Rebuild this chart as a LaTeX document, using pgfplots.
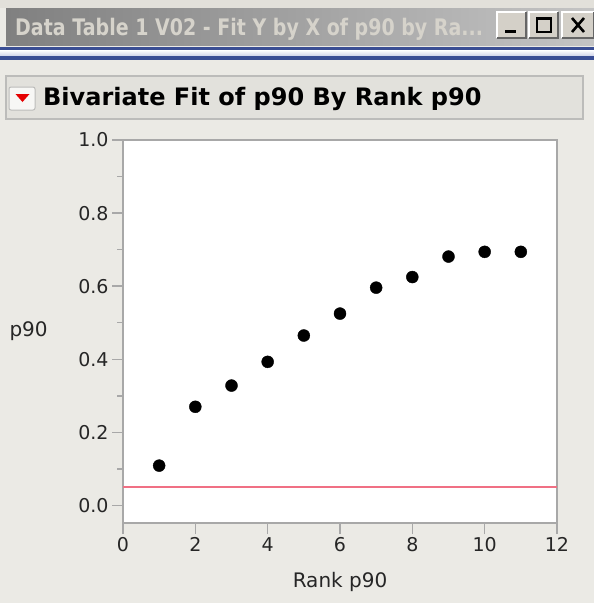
\documentclass[border=0pt]{standalone}
\usepackage{graphicx}
\usepackage{fontspec}
\setmainfont{DejaVu Sans}
\usepackage{pgfplots}
\pgfplotsset{compat=1.18}

\definecolor{winbg}{RGB}{235,234,229}
\definecolor{strip}{RGB}{226,224,218}
\definecolor{tbleft}{RGB}{128,128,128}
\definecolor{tbright}{RGB}{196,196,196}
\definecolor{tbtext}{RGB}{214,211,203}
\definecolor{btnface}{RGB}{212,208,200}
\definecolor{bluedark}{RGB}{58,78,148}
\definecolor{bluelight}{RGB}{206,210,232}
\definecolor{hdrfill}{RGB}{226,225,220}
\definecolor{hdrline}{RGB}{188,188,186}
\definecolor{axgray}{RGB}{168,168,168}
\definecolor{fitred}{RGB}{240,112,132}

\begin{document}
\begin{tikzpicture}
% window chrome, drawn in pixel units from the top left
\begin{scope}[x=1pt,y=-1pt]
\path[use as bounding box] (0,0) rectangle (594,603);
\fill[winbg] (0,0) rectangle (594,603);
\fill[strip] (0,0) rectangle (594,8);
\shade[left color=tbleft, right color=tbright] (6,8) rectangle (594,45);
\node[anchor=base west, inner sep=0, text=tbtext,
      font=\fontsize{19}{22}\selectfont\bfseries] at (15,35)
      {\scalebox{1}[1.2]{Data Table 1 V02 - Fit Y by X of p90 by Ra...}};
% title bar buttons
\foreach \xa/\xb in {497/526, 529/558, 562/594}{
  \fill[btnface] (\xa,12) rectangle (\xb,38);
  \draw[white, line width=1.5pt] (\xa,38) -- (\xa,12) -- (\xb,12);
  \draw[black!60, line width=1.5pt] (\xa,38) -- (\xb,38) -- (\xb,12);
}
\draw[black, line width=3pt] (505,31) -- (516,31);
\draw[black, line width=1.8pt] (537,18) rectangle (551,32);
\draw[black, line width=3pt] (537,18) -- (551,18);
\draw[black, line width=2.6pt] (572,18) -- (584,32) (572,32) -- (584,18);
% blue band under the title bar
\fill[bluedark] (0,47) rectangle (594,50);
\shade[top color=white, bottom color=bluelight] (0,50) rectangle (594,56);
\fill[bluedark] (0,56) rectangle (594,60);
% outline header
\filldraw[fill=hdrfill, draw=hdrline, line width=1.5pt] (6,76) rectangle (583,119);
\filldraw[fill=white!60!winbg, draw=hdrline, rounded corners=2pt, line width=1pt]
  (9,87) rectangle (35,110);
\fill[red!90!black] (15.5,94) -- (29.5,94) -- (22.5,102) -- cycle;
\node[anchor=base west, inner sep=0, font=\fontsize{24}{28}\selectfont\bfseries]
  at (43,105) {Bivariate Fit of p90 By Rank p90};
\end{scope}

\begin{axis}[
    at={(123pt,-523pt)}, anchor=south west,
    scale only axis, width=434pt, height=383pt,
    xmin=0, xmax=12, ymin=-0.048, ymax=1.0,
    xtick={0,2,4,6,8,10,12},
    ytick={0,0.2,0.4,0.6,0.8,1},
    minor ytick={0.1,0.3,0.5,0.7,0.9},
    xtick pos=bottom, ytick pos=left,
    tick align=outside,
    major tick length=11pt, minor tick length=6pt,
    every tick/.style={axgray, line width=1.5pt},
    axis line style={axgray, line width=1.5pt},
    axis background/.style={fill=white},
    /pgf/number format/assume math mode=true,
    yticklabel style={/pgf/number format/.cd, fixed, fixed zerofill, precision=1},
    tick label style={font=\fontsize{19}{22}\selectfont, text=black!85},
    xlabel={Rank p90},
    ylabel={p90},
    every axis x label/.style={at={(axis description cs:0.5,0)}, anchor=north,
        yshift=-46pt, font=\fontsize{20}{24}\selectfont, text=black!85},
    every axis y label/.style={at={(axis description cs:0,0.5)}, anchor=west,
        xshift=-117pt, font=\fontsize{20}{24}\selectfont, text=black!85},
    clip=false,
]
\addplot[fitred, line width=2.5pt] coordinates {(0,0.05) (12,0.05)};
\addplot[only marks, mark=*, mark size=6pt, black] coordinates {
    (1,0.109) (2,0.270) (3,0.328) (4,0.393) (5,0.465) (6,0.525)
    (7,0.596) (8,0.625) (9,0.681) (10,0.694) (11,0.694)
};
\end{axis}
\end{tikzpicture}
\end{document}
